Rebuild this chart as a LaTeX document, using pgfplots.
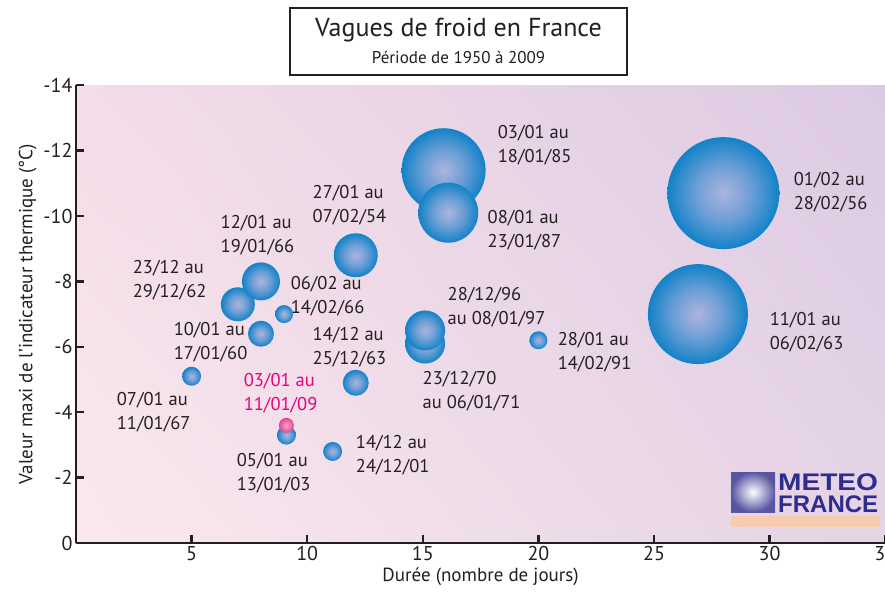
\documentclass[border=0pt]{standalone}
\usepackage{pgfplots}
\pgfplotsset{compat=1.18}
\usepackage{pgfplotstable}
\usetikzlibrary{shadings}
\usepackage{fontspec}
\setmainfont{PT Sans}
\newfontfamily\logofont{Liberation Sans}
\definecolor{txt}{HTML}{231F20}
\definecolor{bgll}{HTML}{FBE8EE}
\definecolor{bgul}{HTML}{F3DDE8}
\definecolor{bglr}{HTML}{E5D3E6}
\definecolor{bgur}{HTML}{DCCAE3}
\definecolor{bubin}{HTML}{ADB4DE}
\definecolor{bubmid}{HTML}{6E9FD6}
\definecolor{bubout}{HTML}{1282C8}
\definecolor{pkin}{HTML}{F5A6CB}
\definecolor{pkout}{HTML}{E4468F}
\definecolor{mfpink}{HTML}{E6007E}
\definecolor{logoblue}{HTML}{2E2C8C}
\definecolor{logoorange}{HTML}{F0A878}
\pgfdeclareradialshading{bubble}{\pgfpoint{0bp}{0bp}}{color(0bp)=(bubin); color(12bp)=(bubmid); color(25bp)=(bubout); color(50bp)=(bubout)}
\pgfdeclareradialshading{pinkbubble}{\pgfpoint{0bp}{0bp}}{color(0bp)=(pkin); color(25bp)=(pkout); color(50bp)=(pkout)}

% duree (jours), valeur maxi (degC), rayon de la bulle (px)
\pgfplotstableread{
x     y      r
5.0   -5.1   9.5
7.0   -7.3   17
8.0   -8.0   19
8.0   -6.4   13
9.0   -7.0   9
9.1   -3.3   9.5
11.1  -2.8   9.5
12.1  -8.8   22
12.1  -4.9   13
15.1  -6.1   20
15.1  -6.5   20
15.9  -11.4  42
16.1  -10.1  30
20.0  -6.2   9
26.9  -7.0   50
28.0  -10.7  56
}\bulles
\pgfplotstableread{
x     y      r
9.1   -3.6   7.5
}\bullerose

\begin{document}
\begin{tikzpicture}
\useasboundingbox (0pt,0pt) rectangle (885pt,598pt);
\begin{axis}[
  at={(76pt,55pt)}, anchor=south west,
  scale only axis, width=809.2pt, height=457.8pt,
  xmin=0, xmax=35, ymin=-14, ymax=0, y dir=reverse,
  axis x line*=bottom, axis y line*=left,
  axis line style={line width=2.6pt, color=txt},
  xtick={5,10,...,35}, ytick={-14,-12,...,0},
  tick align=inside, major tick length=8pt,
  tick style={line width=2.4pt, color=txt},
  /pgf/number format/assume math mode=true,
  ticklabel style={font=\fontsize{20}{20}\selectfont, text=txt},
  label style={font=\fontsize{19}{19}\selectfont, text=txt},
  xlabel={Durée (nombre de jours)},
  ylabel={Valeur maxi de l'indicateur thermique (°C)},
  axis background/.style={shade, lower left=bgll, upper left=bgul, lower right=bglr, upper right=bgur},
  clip=false,
  every node near coord/.style={circle, inner sep=0pt, outer sep=0pt, draw=none, anchor=center, minimum size=2*\rad pt, shade, shading=bubble},
]
\addplot[draw=none, mark=none, nodes near coords={}, visualization depends on={\thisrow{r} \as \rad}] table[x=x, y=y] {\bulles};
\addplot[draw=none, mark=none, nodes near coords={}, visualization depends on={\thisrow{r} \as \rad},
  every node near coord/.append style={shading=pinkbubble}] table[x=x, y=y] {\bullerose};

\begin{scope}[every node/.style={font=\fontsize{18.5}{24}\selectfont, text=txt, align=left, inner sep=0pt}]
\node at (axis cs:19.84,-12.17) {03/01 au\\18/01/85};
\node at (axis cs:19.40,-9.57) {08/01 au\\23/01/87};
\node at (axis cs:32.64,-10.73) {01/02 au\\28/02/56};
\node at (axis cs:31.60,-6.45) {11/01 au\\06/02/63};
\node at (axis cs:11.83,-10.34) {27/01 au\\07/02/54};
\node at (axis cs:7.85,-9.42) {12/01 au\\19/01/66};
\node at (axis cs:4.05,-8.04) {23/12 au\\29/12/62};
\node at (axis cs:10.88,-7.55) {06/02 au\\14/02/66};
\node at (axis cs:5.82,-6.15) {10/01 au\\17/01/60};
\node at (axis cs:11.83,-5.99) {14/12 au\\25/12/63};
\node at (axis cs:3.36,-4.01) {07/01 au\\11/01/67};
\node[text=mfpink] at (axis cs:8.85,-4.59) {03/01 au\\11/01/09};
\node at (axis cs:8.55,-2.14) {05/01 au\\13/01/03};
\node at (axis cs:13.70,-2.69) {14/12 au\\24/12/01};
\node at (axis cs:18.19,-7.22) {28/12/96\\au 08/01/97};
\node at (axis cs:17.11,-4.65) {23/12/70\\au 06/01/71};
\node at (axis cs:22.43,-5.84) {28/01 au\\14/02/91};
\end{scope}
\end{axis}

% titre
\draw[line width=2.8pt, color=txt, fill=white] (290pt,523pt) rectangle (627pt,590pt);
\node[font=\fontsize{26}{26}\selectfont, text=txt] at (458.5pt,568pt) {Vagues de froid en France};
\node[font=\fontsize{17}{17}\selectfont, text=txt] at (458.5pt,541pt) {Période de 1950 à 2009};

% logo
\shade[inner color=white, outer color=logoblue!80] (731pt,86pt) rectangle (775pt,126pt);
\fill[logoorange!60] (731pt,71pt) rectangle (880pt,82pt);
\node[font=\logofont\bfseries\fontsize{24}{24}\selectfont, text=logoblue, anchor=west, inner sep=0pt] at (778pt,116pt) {\scalebox{1.17}[1]{METEO}};
\node[font=\logofont\bfseries\fontsize{24}{24}\selectfont, text=logoblue, anchor=west, inner sep=0pt] at (778pt,94pt) {FRANCE};
\end{tikzpicture}
\end{document}
